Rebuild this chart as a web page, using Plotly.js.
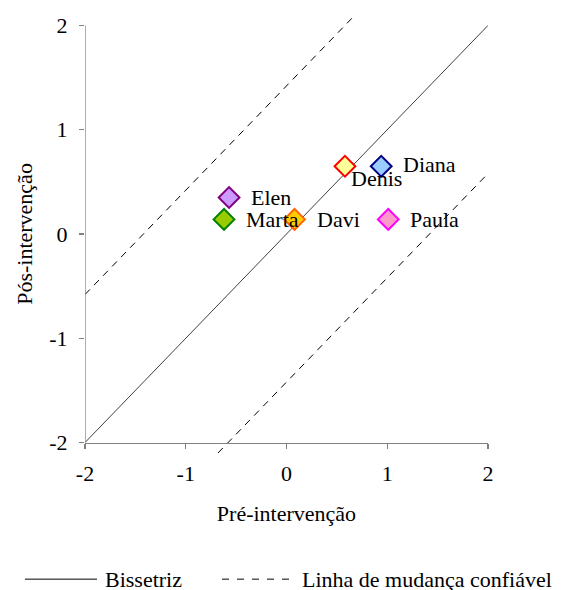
<!DOCTYPE html>
<html>
<head>
<meta charset="utf-8">
<script src="https://cdn.plot.ly/plotly-3.0.1.min.js"></script>
<style>html,body{margin:0;padding:0;background:#fff}#chart{width:561px;height:590px}</style>
</head>
<body>
<div id="chart"></div>
<script>
// Data
var names = ['Elen', 'Marta', 'Davi', 'Denis', 'Diana', 'Paula'];
var pre = [-0.57, -0.62, 0.08, 0.58, 0.94, 1.01];
var post = [0.35, 0.14, 0.14, 0.65, 0.65, 0.14];
var fillColors = ['#CC99FF', '#99CC00', '#FFCC00', '#FFFF99', '#99CCFF', '#FF99CC'];
var lineColors = ['#800080', '#008000', '#FF6600', '#FF0000', '#000080', '#FF00FF'];

var bisX = [-2, 2];
var bisY = [-2, 2];
var upperX = [-2, 0.68];
var upperY = [-0.58, 2.1];
var lowerX = [-0.68, 2];
var lowerY = [-2.1, 0.58];

var tickVals = [-2, -1, 0, 1, 2];
var tickText = ['-2', '-1', '0', '1', '2'];

var FONT = 'Liberation Serif';
var FS = 22;

var traces = [
  {x: bisX, y: bisY, mode: 'lines', line: {color: '#404040', width: 1}, hoverinfo: 'skip', showlegend: false},
  {x: upperX, y: upperY, mode: 'lines', line: {color: '#000', width: 1, dash: '7px,6px'}, hoverinfo: 'skip', showlegend: false},
  {x: lowerX, y: lowerY, mode: 'lines', line: {color: '#000', width: 1, dash: '7px,6px'}, hoverinfo: 'skip', showlegend: false},
  {x: pre, y: post, text: names, mode: 'markers',
   marker: {symbol: 'diamond', size: 16, color: fillColors, line: {color: lineColors, width: 2}},
   cliponaxis: false, showlegend: false}
];

// point labels, positioned from the data
var labelShiftX = [20, 20, 20, 4, 20, 20];
var labelShiftY = [0, 0, 0, -12, 2, 0];
var pointLabels = names.map(function (n, i) {
  return {xref: 'x', yref: 'y', x: pre[i], y: post[i], text: n, showarrow: false,
    xanchor: 'left', yanchor: 'middle', xshift: labelShiftX[i], yshift: labelShiftY[i],
    font: {family: FONT, size: FS, color: '#000'}};
});

var LY = -0.288;
var layout = {
  width: 561, height: 590,
  margin: {l: 85, r: 73, t: 15, b: 137},
  paper_bgcolor: '#fff', plot_bgcolor: '#fff',
  font: {family: FONT, size: FS, color: '#000'},
  showlegend: false,
  xaxis: {
    range: [-2, 2], tickvals: tickVals, ticktext: tickText,
    anchor: 'free', position: 0.1 / 4.2,
    showgrid: false, zeroline: false, showline: true, linecolor: '#808080', linewidth: 1.3,
    ticks: 'outside', ticklen: 5, tickcolor: '#808080', tickwidth: 1.3,
    ticklabelstandoff: 6,
    tickfont: {family: FONT, size: FS},
    title: {text: 'Pré-intervenção', font: {family: FONT, size: FS}, standoff: 20}
  },
  yaxis: {
    range: [-2.1, 2.1], tickvals: tickVals, ticktext: tickText,
    showgrid: false, zeroline: false, showline: false,
    ticks: 'outside', ticklen: 5, tickcolor: '#808080', tickwidth: 1.3,
    ticklabelstandoff: 7,
    tickfont: {family: FONT, size: FS},
    title: {text: 'Pós-intervenção', font: {family: FONT, size: FS}, standoff: 10}
  },
  shapes: [
    {type: 'line', xref: 'x', yref: 'y', x0: -2, x1: -2, y0: -2, y1: 2, line: {color: '#808080', width: 1.3}},
    {type: 'line', xref: 'paper', yref: 'paper', x0: -0.149, x1: 0.0298, y0: LY, y1: LY, line: {color: '#000', width: 1}},
    {type: 'line', xref: 'paper', yref: 'paper', x0: 0.340, x1: 0.521, y0: LY, y1: LY, line: {color: '#000', width: 1, dash: '7px,8px'}}
  ],
  annotations: pointLabels.concat([
    {xref: 'paper', yref: 'paper', x: 0.0447, y: LY, xanchor: 'left', yanchor: 'middle', showarrow: false, text: 'Bissetriz', font: {family: FONT, size: FS}},
    {xref: 'paper', yref: 'paper', x: 0.5335, y: LY, xanchor: 'left', yanchor: 'middle', showarrow: false, text: 'Linha de mudança confiável', font: {family: FONT, size: FS}}
  ])
};

Plotly.newPlot('chart', traces, layout, {displayModeBar: false, staticPlot: true});
</script>
</body>
</html>
